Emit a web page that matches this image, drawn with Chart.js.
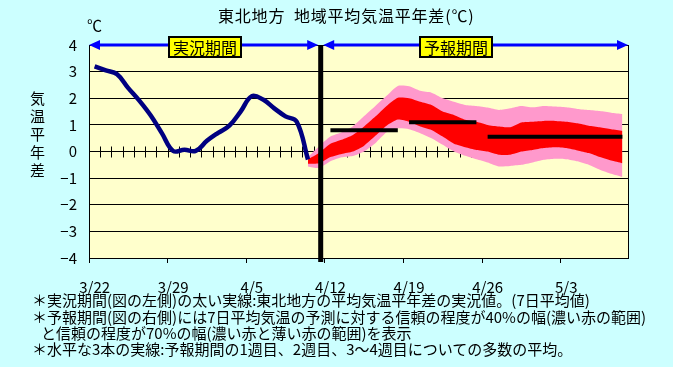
<!DOCTYPE html>
<html>
<head>
<meta charset="utf-8">
<script src="https://cdn.jsdelivr.net/npm/chart.js@4/dist/chart.umd.min.js"></script>
<style>
  html, body { margin:0; padding:0; background:#ccffff; }
  #wrap { position:relative; width:673px; height:367px; overflow:hidden;
          font-family:"Noto Sans CJK JP", sans-serif; color:#000; }
  #chart { position:absolute; left:0; top:0; }
  .txt { position:absolute; white-space:nowrap; font-size:15px; line-height:1; }
  .box { position:absolute; top:36px; height:18px; width:70px; background:#ffff00;
         border:2px solid #000; font-size:16px; line-height:18px; text-align:center; }
  #ylab { position:absolute; left:30px; top:89px; width:16px; font-size:15px; line-height:18px; }
</style>
</head>
<body>
<div id="wrap">
  <canvas id="chart" width="673" height="367"></canvas>
  <div class="txt" style="left:218px;top:7px;font-size:16px;letter-spacing:0.8px;">東北地方&nbsp;&nbsp;地域平均気温平年差(℃)</div>
  <div class="txt" style="left:87px;top:17px;">℃</div>
  <div id="ylab">気<br>温<br>平<br>年<br>差</div>
  <div class="box" style="left:168px;">実況期間</div>
  <div class="box" style="left:419px;">予報期間</div>
  <div class="txt" style="left:32px;top:292px;">＊実況期間(図の左側)の太い実線:東北地方の平均気温平年差の実況値。(7日平均値)</div>
  <div class="txt" style="left:32px;top:309px;">＊予報期間(図の右側)には7日平均気温の予測に対する信頼の程度が40%の幅(濃い赤の範囲)</div>
  <div class="txt" style="left:41px;top:325px;">と信頼の程度が70%の幅(濃い赤と薄い赤の範囲)を表示</div>
  <div class="txt" style="left:32px;top:341px;">＊水平な3本の実線:予報期間の1週目、2週目、3～4週目についての多数の平均。</div>
</div>
<script>
/* ── DATA ──────────────────────────────── */
const DATES = [
  '3/22','3/23','3/24','3/25','3/26','3/27','3/28','3/29','3/30','3/31',
  '4/1','4/2','4/3','4/4','4/5','4/6','4/7','4/8','4/9','4/10',
  '4/11','4/12','4/13','4/14','4/15','4/16','4/17','4/18','4/19','4/20',
  '4/21','4/22','4/23','4/24','4/25','4/26','4/27','4/28','4/29','4/30',
  '5/1','5/2','5/3','5/4','5/5','5/6','5/7','5/8'
];
const TICK_LABELS = ['3/22','3/29','4/5','4/12','4/19','4/26','5/3'];
const Y_TICKS = [4, 3, 2, 1, 0, -1, -2, -3, -4];

// observed 7-day mean anomaly, 3/22 .. 4/10
const OBS = [3.2, 3.05, 2.9, 2.38, 1.9, 1.35, 0.68, 0.02, 0.07, 0.02,
             0.4, 0.7, 0.97, 1.5, 2.08, 1.95, 1.62, 1.32, 1.12, -0.3];

// forecast ranges, 4/10 .. 5/8
const FC_START = '4/10';
const UPPER70 = [-0.2, 0.2, 0.56, 0.72, 0.95, 1.33, 1.71, 2.09, 2.46, 2.45, 2.28, 2.21, 2.0, 1.87, 1.75,
                 1.71, 1.65, 1.56, 1.62, 1.71, 1.66, 1.71, 1.69, 1.66, 1.6, 1.56, 1.52, 1.46, 1.41];
const UPPER40 = [-0.3, -0.05, 0.29, 0.44, 0.62, 0.94, 1.31, 1.71, 2.02, 2.0, 1.87, 1.75, 1.5, 1.37, 1.19,
                 1.12, 1.0, 0.94, 0.91, 1.09, 1.12, 1.15, 1.15, 1.12, 1.06, 0.97, 0.91, 0.84, 0.78];
const LOWER40 = [-0.46, -0.44, -0.21, -0.09, 0.0, 0.22, 0.59, 0.97, 1.2, 1.12, 0.94, 0.81, 0.56, 0.29, 0.16,
                 0.06, 0.0, -0.12, -0.12, 0.0, 0.06, 0.13, 0.16, 0.13, 0.04, -0.06, -0.21, -0.34, -0.44];
const LOWER70 = [-0.56, -0.62, -0.37, -0.22, -0.17, 0.0, 0.31, 0.72, 0.87, 0.84, 0.69, 0.5, 0.25, 0.0, -0.16,
                 -0.29, -0.41, -0.56, -0.54, -0.5, -0.41, -0.31, -0.27, -0.29, -0.37, -0.5, -0.69, -0.84, -0.96];

// ensemble means for week 1, week 2, weeks 3-4
const WEEK_MEANS = [0.8, 1.1, 0.55];
const WEEK_SPANS = [['4/12','4/18'], ['4/19','4/25'], ['4/26','5/8']];
const NOW_DATE = '4/11';

/* ── HELPERS ───────────────────────────── */
const fcPad = arr => Array(DATES.indexOf(FC_START)).fill(null).concat(arr);

function band(data, color, target, order) {
  return {
    data: fcPad(data), borderWidth: 0, borderColor: 'transparent', pointRadius: 0,
    backgroundColor: color, fill: target === null ? false : { target }, tension: 0.2, order
  };
}

function arrow(ctx, x1, x2, y) {
  const L = 11, H = 5;
  ctx.beginPath();
  ctx.moveTo(x1 + L - 1, y); ctx.lineTo(x2 - L + 1, y);
  ctx.stroke();
  ctx.beginPath();
  ctx.moveTo(x1, y); ctx.lineTo(x1 + L, y - H); ctx.lineTo(x1 + L, y + H); ctx.closePath();
  ctx.moveTo(x2, y); ctx.lineTo(x2 - L, y - H); ctx.lineTo(x2 - L, y + H); ctx.closePath();
  ctx.fill();
}

/* ── PLUGIN: background, minor ticks, divider, arrows ── */
const decor = {
  id: 'decor',
  beforeDraw(chart) {
    const { ctx, chartArea: a } = chart;
    ctx.save();
    ctx.fillStyle = '#ffffcc';
    ctx.fillRect(a.left, a.top, a.width, a.height);
    ctx.restore();
  },
  beforeDatasetsDraw(chart) {
    const { ctx, chartArea: a, scales: { x, y } } = chart;
    const y0 = y.getPixelForValue(0);
    const half = (x.getPixelForValue(1) - x.getPixelForValue(0)) / 2;
    ctx.save();
    ctx.strokeStyle = '#000';
    ctx.lineWidth = 1;
    ctx.beginPath();
    for (let i = 1; i < DATES.length; i++) {
      const px = Math.round(x.getPixelForValue(i) - half) + 0.5;
      ctx.moveTo(px, y0 - 5); ctx.lineTo(px, y0 + 6);
    }
    // right frame
    ctx.moveTo(Math.round(a.right) + 0.5, a.top); ctx.lineTo(Math.round(a.right) + 0.5, a.bottom);
    ctx.stroke();
    ctx.restore();
  },
  afterDatasetsDraw(chart) {
    const { ctx, chartArea: a, scales: { x } } = chart;
    const xn = x.getPixelForValue(DATES.indexOf(NOW_DATE)) + 1.5;
    ctx.save();
    ctx.fillStyle = '#000';
    ctx.fillRect(xn - 2.5, a.top, 5, a.bottom - a.top + 4);
    ctx.strokeStyle = '#0000ff';
    ctx.fillStyle = '#0000ff';
    ctx.lineWidth = 3;
    arrow(ctx, a.left, xn - 2.5, a.top);
    arrow(ctx, xn + 2.5, a.right, a.top);
    ctx.restore();
  }
};

/* ── CHART ─────────────────────────────── */
const weekSets = WEEK_MEANS.map((v, i) => ({
  data: [{ x: WEEK_SPANS[i][0], y: v }, { x: WEEK_SPANS[i][1], y: v }],
  borderColor: '#000', borderWidth: 4, pointRadius: 0, fill: false, order: 0
}));

new Chart(document.getElementById('chart'), {
  type: 'line',
  data: {
    labels: DATES,
    datasets: [
      { data: OBS, borderColor: '#000080', borderWidth: 4.5, pointRadius: 0,
        tension: 0.4, fill: false, order: 1 },
      ...weekSets,
      band(UPPER40, '#ff0000', 5, 3),
      band(LOWER40, 'transparent', null, 3),
      band(UPPER70, '#ff99cc', 7, 4),
      band(LOWER70, 'transparent', null, 4)
    ]
  },
  options: {
    responsive: false,
    devicePixelRatio: 1,
    animation: false,
    layout: { padding: { left: 0, right: 45, top: 45, bottom: 0 } },
    plugins: { legend: { display: false }, tooltip: { enabled: false } },
    scales: {
      x: {
        offset: true,
        afterFit: s => { s.height = 109; },
        grid: {
          offset: true, drawOnChartArea: false, tickLength: 5, lineWidth: 1,
          tickColor: c => (c.index !== undefined && c.index % 7 === 0) ? '#000' : 'rgba(0,0,0,0)'
        },
        border: { color: '#000', width: 1 },
        ticks: {
          autoSkip: false, maxRotation: 0, padding: 15, color: '#000',
          font: { family: '"Noto Sans CJK JP", sans-serif', size: 15 },
          callback: (v, i) => TICK_LABELS.includes(DATES[i]) ? DATES[i] : ''
        }
      },
      y: {
        min: -4, max: 4,
        afterFit: s => { s.width = 89; },
        afterBuildTicks: s => { s.ticks = Y_TICKS.map(v => ({ value: v })); },
        grid: { color: '#000', lineWidth: 1, drawTicks: false },
        border: { color: '#000', width: 1 },
        ticks: {
          padding: 12, color: '#000',
          font: { family: '"Noto Sans CJK JP", sans-serif', size: 15 },
          callback: v => v < 0 ? '−' + Math.abs(v) : String(v)
        }
      }
    }
  },
  plugins: [decor]
});
</script>
</body>
</html>
